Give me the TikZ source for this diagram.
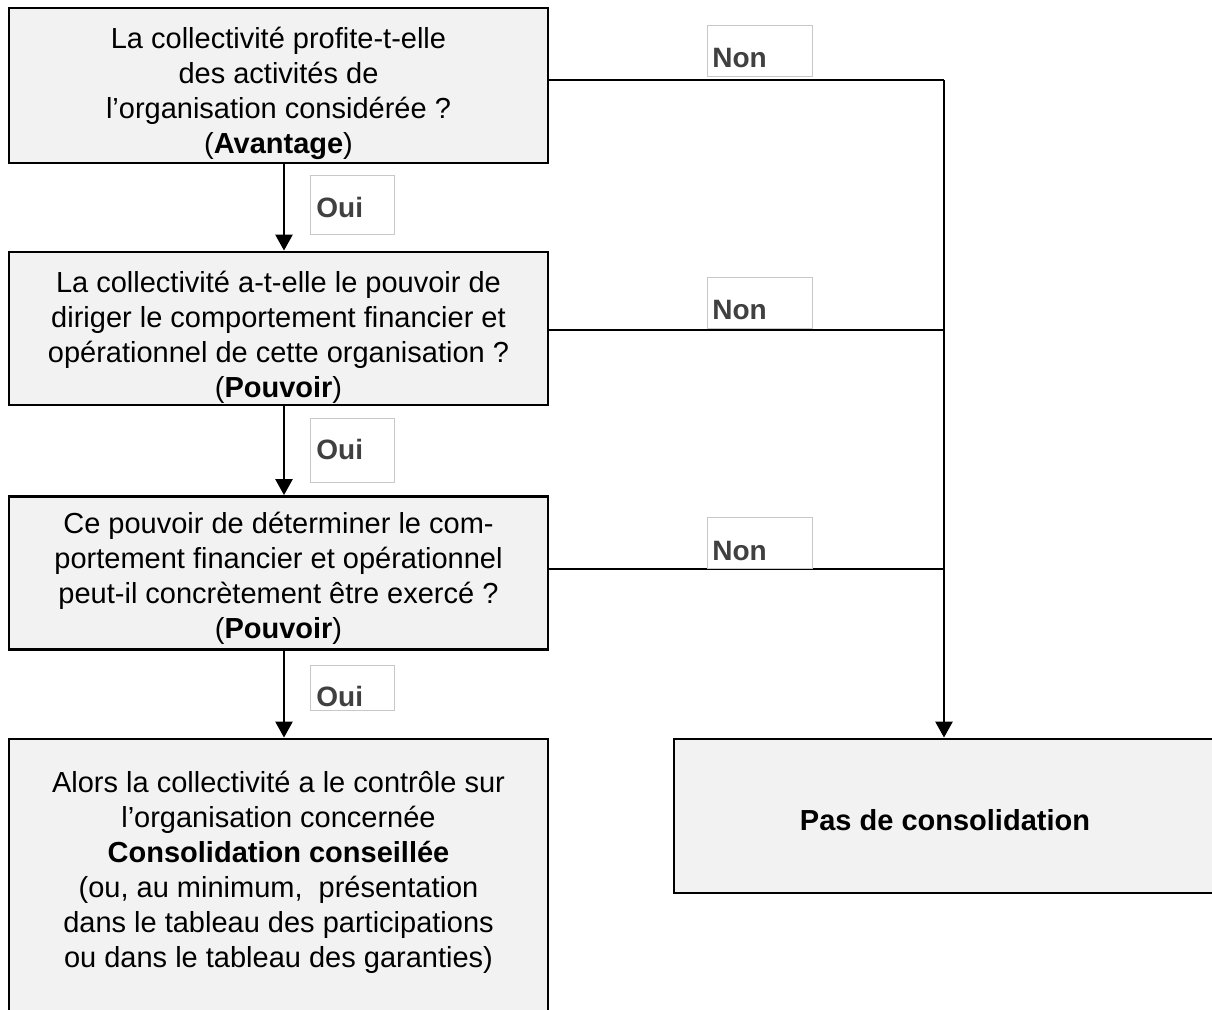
\documentclass[tikz,border=0pt]{standalone}
\usepackage{fontspec}
\setmainfont{Liberation Sans}
\usetikzlibrary{arrows.meta}
\definecolor{boxfill}{HTML}{F2F2F2}
\definecolor{lblborder}{HTML}{C8C8C8}
\definecolor{lbltext}{HTML}{404040}
\begin{document}
\begin{tikzpicture}[x=0.5pt,y=-0.5pt,
  qbox/.style={draw=black, line width=1.4pt, fill=boxfill, inner sep=0pt},
  qtext/.style={align=center, font=\fontsize{14.5pt}{17.5pt}\selectfont, text=black, inner sep=0pt},
  lbl/.style={draw=lblborder, line width=0.5pt, fill=white, inner sep=0pt},
  lbltxt/.style={font=\fontsize{14pt}{16pt}\selectfont\bfseries, text=lbltext, anchor=base west, inner sep=0pt},
  conn/.style={line width=1.3pt, draw=black},
  arr/.style={conn, -{Triangle[width=8.5pt,length=8pt]}}]
\useasboundingbox (0,0) rectangle (1212,1010);
\clip (0,0) rectangle (1212,1010);

% question boxes
\node[qbox, minimum width=269.5pt, minimum height=77.5pt] (box1) at (278.5,85.5) {};
\node[qtext] (box1text) at (278.5,93)
  {La collectivité profite-t-elle\\des activités de\\l’organisation considérée ?\\(\textbf{Avantage})};
\node[qbox, minimum width=269.5pt, minimum height=76.5pt] (box2) at (278.5,328.5) {};
\node[qtext] (box2text) at (278.5,337)
  {La collectivité a-t-elle le pouvoir de\\diriger le comportement financier et\\opérationnel de cette organisation ?\\(\textbf{Pouvoir})};
\node[qbox, minimum width=269.5pt, minimum height=76.5pt] (box3) at (278.5,573) {};
\node[qtext] (box3text) at (278.5,578)
  {Ce pouvoir de déterminer le com-\\portement financier et opérationnel\\peut-il concrètement être exercé ?\\(\textbf{Pouvoir})};
\node[qbox, minimum width=269.5pt, minimum height=160.5pt] (box4) at (278.5,899.5) {};
\node[qtext] (box4text) at (278.5,872)
  {Alors la collectivité a le contrôle sur\\l’organisation concernée\\\textbf{Consolidation conseillée}\\(ou, au minimum,\ \ présentation\\dans le tableau des participations\\ou dans le tableau des garanties)};
\node[qbox, minimum width=271pt, minimum height=77pt] (pas) at (945,816) {};
\node[qtext] (pastext) at (945,820) {\textbf{Pas de consolidation}};

% helper coordinates
\coordinate (ax) at (284,0);
\coordinate (j1) at (944,80);
\coordinate (j2) at (944,330);
\coordinate (j3) at (944,569);

% connectors
\draw[arr] (box1.south -| ax) -- (box2.north -| ax);
\draw[arr] (box2.south -| ax) -- (box3.north -| ax);
\draw[arr] (box3.south -| ax) -- (box4.north -| ax);
\draw[conn] (box1.east |- j1) -- (j1);
\draw[conn] (box2.east |- j2) -- (j2);
\draw[conn] (box3.east |- j3) -- (j3);
\draw[arr] (j1) -- (pas.north -| j1);

% labels
\node[lbl, minimum width=42pt, minimum height=29.5pt] (oui1) at (352,205.5) {};
\node[lbl, minimum width=42pt, minimum height=32pt] (oui2) at (352,451) {};
\node[lbl, minimum width=42pt, minimum height=22.5pt] (oui3) at (352,688.5) {};
\node[lbl, minimum width=52.5pt, minimum height=25.5pt] (non1) at (759.5,51.5) {};
\node[lbl, minimum width=52.5pt, minimum height=25.5pt] (non2) at (759.5,303.5) {};
\node[lbl, minimum width=52.5pt, minimum height=25.5pt] (non3) at (759.5,543.5) {};
\node[lbltxt] (oui1t) at (316,218) {Oui};
\node[lbltxt] (oui2t) at (316,460) {Oui};
\node[lbltxt] (oui3t) at (316,707) {Oui};
\node[lbltxt] (non1t) at (712,68) {Non};
\node[lbltxt] (non2t) at (712,320) {Non};
\node[lbltxt] (non3t) at (712,561) {Non};
\end{tikzpicture}
\end{document}
